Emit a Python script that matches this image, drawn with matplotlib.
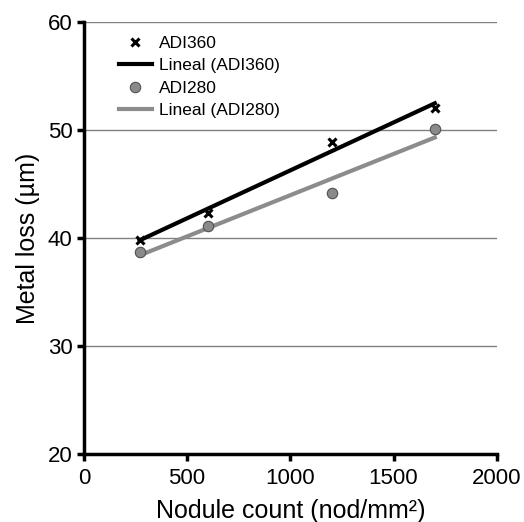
import numpy as np
import matplotlib.pyplot as plt

plt.rcParams['font.family'] = ['Liberation Sans', 'DejaVu Sans']

# data
nodules = [270, 600, 1200, 1700]
adi360 = [39.8, 42.3, 48.9, 52.0]
adi280 = [38.7, 41.1, 44.2, 50.1]

xticks = [0, 500, 1000, 1500, 2000]
yticks = [20, 30, 40, 50, 60]

fig = plt.figure(figsize=(5.24, 5.22), dpi=100)
ax = fig.add_axes([0.16, 0.13, 0.788, 0.828])

x = np.array(nodules)
xl = np.array([x.min(), x.max()])

# fitted trend lines
p360 = np.polyfit(x, adi360, 1)
p280 = np.polyfit(x, adi280, 1)

ax.plot(x, adi360, linestyle='none', marker='x', color='black', ms=6, mew=2.2, label='ADI360', zorder=4)
ax.plot(xl, np.polyval(p360, xl), color='black', lw=3, label='Lineal (ADI360)', zorder=3)
ax.plot(x, adi280, linestyle='none', marker='o', color='#8a8a8a', mec='#505050', mew=0.8, ms=7.5, label='ADI280', zorder=4)
ax.plot(xl, np.polyval(p280, xl), color='#8c8c8c', lw=3, label='Lineal (ADI280)', zorder=3)

ax.set_xlim(0, 2000)
ax.set_ylim(20, 60)
ax.set_xticks(xticks)
ax.set_yticks(yticks)
ax.yaxis.grid(True, color='#808080', lw=1)
ax.set_axisbelow(True)

for s in ['top', 'right']:
    ax.spines[s].set_visible(False)
for s in ['left', 'bottom']:
    ax.spines[s].set_linewidth(2.5)
ax.tick_params(direction='out', width=2.5, length=5, labelsize=16, colors='black', pad=3)
ax.tick_params(axis='x', pad=5)

ax.set_xlabel('Nodule count (nod/mm²)', fontsize=18, labelpad=7)
ax.set_ylabel('Metal loss (µm)', fontsize=18, labelpad=6)

ax.legend(loc='upper left', bbox_to_anchor=(0.055, 0.995), frameon=False, fontsize=12.5,
          handlelength=1.9, labelspacing=0.4, borderaxespad=0.3, handletextpad=0.4)

fig.savefig('out.png', dpi=100)
